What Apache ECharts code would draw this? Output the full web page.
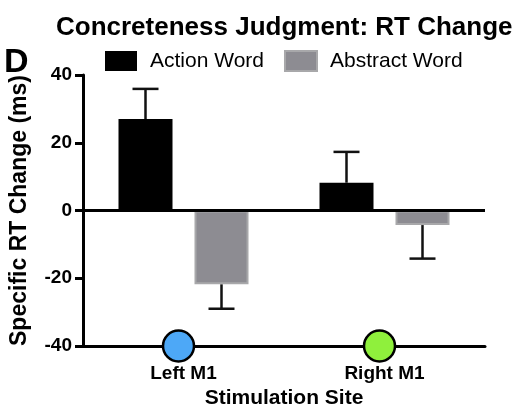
<!DOCTYPE html>
<html>
<head>
<meta charset="utf-8">
<script src="https://cdn.jsdelivr.net/npm/echarts@6/dist/echarts.min.js"></script>
<style>
  html, body { margin: 0; padding: 0; background: #fff; }
  #main { width: 517px; height: 415px; }
</style>
</head>
<body>
<div id="main"></div>
<script>
var sites = ['Left M1', 'Right M1'];
var actionMean = [27.0, 8.2];
var actionErr = [8.9, 9.1];
var abstractMean = [-21.8, -4.3];
var abstractErr = [7.2, 9.9];
var siteColors = ['#4da8f7', '#8ff03c'];
var siteMarker = [-40, -40];

var font = '"Liberation Sans", Arial, sans-serif';
var barWidth = 54;
var barGapPx = 22;
var dom = document.getElementById('main');
var myChart = echarts.init(dom);

function errorBar(offsetSign) {
    return function (params, api) {
        var cat = api.value(0);
        var mean = api.value(1);
        var err = api.value(2);
        var end = mean >= 0 ? mean + err : mean - err;
        var p0 = api.coord([cat, mean]);
        var p1 = api.coord([cat, end]);
        var dx = offsetSign * (barWidth + barGapPx) / 2;
        var x = p0[0] + dx;
        var style = { stroke: '#111', lineWidth: 2.5 };
        return {
            type: 'group',
            children: [
                { type: 'line', shape: { x1: x, y1: p0[1], x2: x, y2: p1[1] }, style: style },
                { type: 'line', shape: { x1: x - 13, y1: p1[1], x2: x + 13, y2: p1[1] }, style: style }
            ]
        };
    };
}

var option = {
    animation: false,
    textStyle: { fontFamily: font },
    title: {
        text: 'Concreteness Judgment: RT Change',
        left: 51,
        top: 10,
        textStyle: { fontFamily: font, fontSize: 26, fontWeight: 'bold', color: '#000' }
    },
    graphic: [{
        type: 'text',
        left: 4,
        top: 46,
        style: { text: 'D', font: 'bold 34px ' + font, fill: '#000' }
    }],
    legend: {
        data: ['Action Word', 'Abstract Word'],
        left: 100,
        top: 45,
        itemWidth: 32,
        itemHeight: 20,
        itemGap: 20,
        icon: 'rect',
        textStyle: { fontFamily: font, fontSize: 21, color: '#000', padding: [0, 0, 0, 8] }
    },
    grid: { left: 83, right: 32, top: 75, bottom: 69 },
    xAxis: {
        type: 'category',
        data: sites,
        name: 'Stimulation Site',
        nameLocation: 'middle',
        nameGap: 37,
        nameTextStyle: { fontFamily: font, fontSize: 21, fontWeight: 'bold', color: '#000' },
        axisLine: { onZero: false, lineStyle: { color: '#000', width: 3 } },
        axisTick: { show: false },
        axisLabel: { margin: 18, fontFamily: font, fontSize: 19, fontWeight: 'bold', color: '#000' }
    },
    yAxis: {
        type: 'value',
        min: -40,
        max: 40,
        interval: 20,
        name: 'Specific RT Change (ms)',
        nameLocation: 'middle',
        nameGap: 52,
        nameTextStyle: { fontFamily: font, fontSize: 23, fontWeight: 'bold', color: '#000' },
        axisLine: { show: true, lineStyle: { color: '#000', width: 3 } },
        axisTick: { show: true, length: 8, lineStyle: { color: '#000', width: 3 } },
        axisLabel: { margin: 11, fontFamily: font, fontSize: 19, fontWeight: 'bold', color: '#000' },
        splitLine: { show: false }
    },
    series: [
        {
            name: 'Action Word',
            type: 'bar',
            data: actionMean,
            barWidth: barWidth,
            barGap: (barGapPx / barWidth * 100) + '%',
            itemStyle: { color: '#000' },
            markLine: {
                silent: true,
                symbol: 'none',
                label: { show: false },
                lineStyle: { color: '#000', width: 3, type: 'solid' },
                data: [{ yAxis: 0 }]
            }
        },
        {
            name: 'Abstract Word',
            type: 'bar',
            data: abstractMean,
            barWidth: barWidth,
            itemStyle: { color: '#8d8c92', borderColor: '#a8a8aa', borderWidth: 2 }
        },
        {
            type: 'custom',
            renderItem: errorBar(-1),
            data: actionMean.map(function (v, i) { return [i, v, actionErr[i]]; }),
            z: 5
        },
        {
            type: 'custom',
            renderItem: errorBar(1),
            data: abstractMean.map(function (v, i) { return [i, v, abstractErr[i]]; }),
            z: 5
        },
        {
            type: 'scatter',
            data: siteMarker.map(function (v, i) {
                return { value: v, itemStyle: { color: siteColors[i] } };
            }),
            symbolSize: 31,
            symbolOffset: [-5, 0],
            clip: false,
            z: 10,
            itemStyle: { borderColor: '#000', borderWidth: 2.5, opacity: 1 }
        }
    ]
};

if (option && typeof option === 'object') {
    myChart.setOption(option);
}
</script>
</body>
</html>
